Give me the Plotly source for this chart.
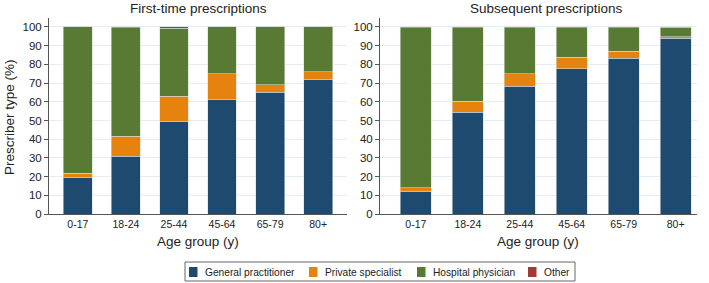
import plotly.graph_objects as go

age_groups = ["0-17", "18-24", "25-44", "45-64", "65-79", "80+"]
series_names = ["General practitioner", "Private specialist", "Hospital physician", "Other"]
colors = ["#1f4a70", "#e5830e", "#587a32", "#a33a3a"]

first_gp = [19.6, 31.0, 49.5, 61.3, 65.0, 72.1]
first_ps = [2.2, 10.6, 13.4, 13.7, 4.0, 3.9]
first_hp = [78.2, 58.0, 36.3, 25.0, 31.0, 24.0]
first_other = [0.0, 0.4, 0.8, 0.0, 0.0, 0.0]

subs_gp = [12.3, 54.3, 68.4, 77.7, 83.2, 93.9]
subs_ps = [1.8, 6.1, 6.6, 6.2, 3.9, 0.9]
subs_hp = [85.5, 39.2, 24.6, 15.7, 12.4, 5.0]
subs_other = [0.4, 0.4, 0.4, 0.4, 0.5, 0.2]

first = [first_gp, first_ps, first_hp, first_other]
subs = [subs_gp, subs_ps, subs_hp, subs_other]

FONT = "Liberation Sans, Arial, sans-serif"
fig = go.Figure()
for i, name in enumerate(series_names):
    fig.add_trace(go.Bar(x=age_groups, y=first[i], name=name, marker_color=colors[i],
                         marker_line=dict(color="rgba(215,220,215,0.8)", width=0.7),
                         width=0.6, xaxis="x", yaxis="y", showlegend=False))
for i, name in enumerate(series_names):
    fig.add_trace(go.Bar(x=age_groups, y=subs[i], name=name, marker_color=colors[i],
                         marker_line=dict(color="rgba(215,220,215,0.8)", width=0.7),
                         width=0.6, xaxis="x2", yaxis="y2", showlegend=False))

W, H = 709, 283
ml, mr, mt, mb = 49, 12, 18, 69
pw = W - ml - mr
ph = H - mt - mb

def px(x):
    return (x - ml) / pw

def py(y):
    return (H - mb - y) / ph

yax = dict(range=[0, 104.8], tickvals=list(range(0, 101, 10)), showgrid=True,
           gridcolor="#e6eef5", gridwidth=1, showline=True, linecolor="#555555", linewidth=1,
           ticks="outside", ticklen=4, tickcolor="#555555", zeroline=False,
           tickfont=dict(size=11.5, color="#222222", family=FONT))
xax = dict(showline=True, linecolor="#555555", linewidth=1, ticks="", showgrid=False,
           tickangle=0, tickfont=dict(size=10.5, color="#222222", family=FONT))

annotations = [
    dict(text="First-time prescriptions", x=px(198), y=py(8), xref="paper", yref="paper",
         showarrow=False, font=dict(size=13.5, family=FONT), xanchor="center", yanchor="middle"),
    dict(text="Subsequent prescriptions", x=px(546), y=py(8), xref="paper", yref="paper",
         showarrow=False, font=dict(size=13.5, family=FONT), xanchor="center", yanchor="middle"),
    dict(text="Age group (y)", x=px(198), y=py(241), xref="paper", yref="paper",
         showarrow=False, font=dict(size=13.5, family=FONT), xanchor="center", yanchor="middle"),
    dict(text="Age group (y)", x=px(538), y=py(241), xref="paper", yref="paper",
         showarrow=False, font=dict(size=13.5, family=FONT), xanchor="center", yanchor="middle"),
    dict(text="Prescriber type (%)", x=px(10), y=py(117), xref="paper", yref="paper",
         showarrow=False, textangle=-90, font=dict(size=13.5, family=FONT),
         xanchor="center", yanchor="middle"),
]

# legend box drawn as shapes + text (matches the compact legend of the reference)
legend_swatch_x = [189, 309, 417, 528]
shapes = [dict(type="rect", xref="paper", yref="paper", x0=px(185), x1=px(575),
               y0=py(262), y1=py(281), line=dict(color="#666666", width=1),
               fillcolor="rgba(0,0,0,0)")]
for name, col, sx in zip(series_names, colors, legend_swatch_x):
    shapes.append(dict(type="rect", xref="paper", yref="paper", x0=px(sx), x1=px(sx + 8.5),
                       y0=py(267), y1=py(277), line=dict(width=0), fillcolor=col))
    annotations.append(dict(text=name, x=px(sx + 14), y=py(272), xref="paper", yref="paper",
                            showarrow=False, xanchor="left", yanchor="middle",
                            font=dict(size=10.2, family=FONT, color="#222222")))

fig.update_layout(
    width=W, height=H, margin=dict(l=ml, r=mr, t=mt, b=mb, autoexpand=False),
    paper_bgcolor="white", plot_bgcolor="white", barmode="stack",
    font=dict(family=FONT, color="#222222"),
    xaxis=dict(domain=[0, px(347)], range=[-0.6, 5.6], anchor="y", **xax),
    yaxis=dict(domain=[0, 1], anchor="x", **yax),
    xaxis2=dict(domain=[px(380), 1], range=[-0.69, 5.41], anchor="y2", **xax),
    yaxis2=dict(domain=[0, 1], anchor="x2", **yax),
    showlegend=False,
    annotations=annotations,
    shapes=shapes,
)

fig.write_html("out.html", config={"displayModeBar": False},
               post_script="document.body.style.margin='0';")
